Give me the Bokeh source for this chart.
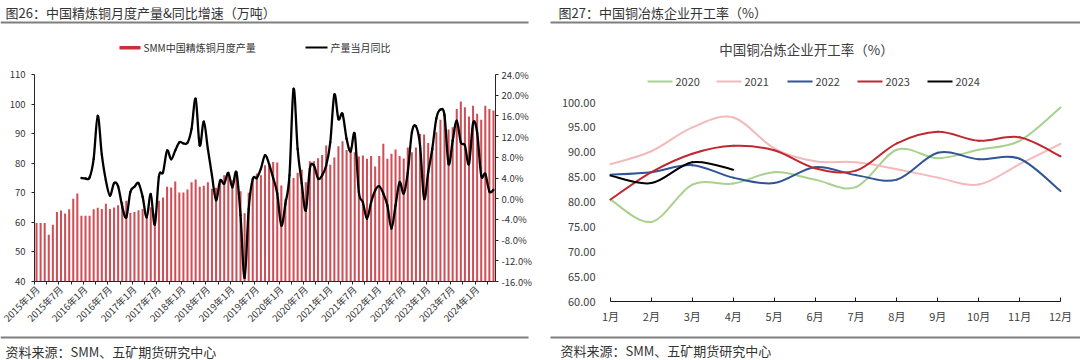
import math
from bokeh.plotting import figure
from bokeh.models import (Range1d, LinearAxis, FixedTicker, PrintfTickFormatter,
                          Label, BoxAnnotation, ColumnDataSource)
from bokeh.layouts import row
from bokeh.embed import file_html
from bokeh.resources import INLINE

FONT = "Noto Sans CJK SC"
TXT = "#333333"

# ---------------- data: left chart ----------------
months = [f"{y}年{m}月" for y in range(2015, 2025) for m in range(1, 13)][:113]
x_label_months = ["2015年1月", "2015年7月", "2016年1月", "2016年7月", "2017年1月", "2017年7月",
                  "2018年1月", "2018年7月", "2019年1月", "2019年7月", "2020年1月", "2020年7月",
                  "2021年1月", "2021年7月", "2022年1月", "2022年7月", "2023年1月", "2023年7月",
                  "2024年1月"]

production = [
    59.8, 59.8, 59.8, 55.8, 59.2, 63.5, 64.0, 63.0, 64.4, 68.0, 69.8, 62.2,   # 2015
    62.2, 62.2, 64.4, 64.9, 64.5, 66.3, 64.5, 65.0, 65.8, 67.0, 67.3, 63.2,   # 2016
    63.5, 64.1, 64.5, 62.6, 65.1, 63.0, 67.3, 68.4, 72.0, 71.8, 73.8, 70.1,   # 2017
    70.1, 71.1, 73.6, 74.5, 72.0, 72.4, 73.6, 71.4, 71.7, 74.2, 75.9, 76.1,   # 2018
    74.2, 76.8, 70.5, 63.1, 70.0, 74.2, 76.5, 75.9, 79.3, 79.8, 80.4, 80.2,   # 2019
    72.5, 68.0, 74.2, 75.0, 76.8, 77.8, 73.6, 80.7, 80.7, 81.7, 82.8, 86.0,   # 2020
    79.5, 81.9, 85.7, 87.4, 84.5, 85.4, 83.7, 82.3, 82.6, 81.5, 82.4, 78.9,   # 2021
    82.4, 86.6, 81.5, 83.2, 84.6, 82.4, 81.6, 85.3, 83.7, 85.3, 89.9, 89.7,   # 2022
    86.8, 85.3, 90.5, 94.7, 96.9, 91.4, 92.2, 98.3, 100.9, 98.9, 95.8, 99.4,  # 2023
    96.7, 94.7, 99.4, 98.3, 97.8,                                             # 2024
]

yoy = [None] * 11 + [
    4.0,                                                                      # 2015-12
    3.9, 4.1, 7.7, 16.0, 8.5, 3.5, 0.6, 3.0, 2.4, -1.5, -3.6, 1.3,            # 2016
    2.3, 3.0, 0.4, -3.6, 0.9, -5.0, 4.3, 5.1, 9.3, 7.6, 9.3, 10.9,            # 2017
    10.7, 10.8, 13.5, 19.3, 10.3, 14.9, 9.6, 4.5, -0.3, 3.5, 2.9, 5.0,        # 2018
    2.2, 5.1, -3.2, -15.3, -2.0, 3.8, 4.0, 5.8, 8.4, 6.7, 4.0, 1.0,           # 2019
    -5.2, -1.0, 4.5, 21.2, 9.6, 3.0, -2.3, 5.8, 6.4, 3.9, 4.5, 6.4,           # 2020
    10.9, 20.1, 15.4, 16.4, 11.6, 9.1, 12.5, 1.3, -0.7, -3.9, -0.7, 1.6,      # 2021
    2.4, 1.0, -1.3, -5.8, -1.3, 3.2, 1.0, 5.1, 12.8, 14.0, 10.3, 0.0,         # 2022
    5.1, 9.6, 15.5, 17.2, 16.1, 6.7, 11.2, 15.1, 10.9, 10.3, 6.7, 14.6,       # 2023
    12.8, 4.5, 4.8, 1.4, 1.7,                                                 # 2024
]

prod_ticks = [40, 50, 60, 70, 80, 90, 100, 110]
yoy_ticks = [-16, -12, -8, -4, 0, 4, 8, 12, 16, 20, 24]

# ---------------- data: right chart ----------------
rate_months = ["1月", "2月", "3月", "4月", "5月", "6月", "7月", "8月", "9月", "10月", "11月", "12月"]
rate_2020 = [80.5, 76.0, 83.5, 83.7, 86.0, 84.5, 83.0, 90.5, 88.8, 90.5, 92.3, 99.0]
rate_2021 = [87.6, 90.2, 95.0, 97.0, 90.8, 88.2, 88.0, 86.6, 84.9, 83.5, 87.6, 91.7]
rate_2022 = [85.5, 86.0, 87.4, 84.9, 83.8, 87.0, 85.4, 84.5, 89.9, 88.6, 88.7, 82.2]
rate_2023 = [80.5, 86.0, 89.7, 91.3, 90.4, 86.8, 86.3, 91.8, 94.1, 92.3, 93.0, 89.2]
rate_2024 = [85.3, 83.8, 88.0, 86.5]
rate_ticks = [60, 65, 70, 75, 80, 85, 90, 95, 100]

series = [("2020", rate_2020, "#A9D18E"), ("2021", rate_2021, "#F4B9BB"),
          ("2022", rate_2022, "#2F5597"), ("2023", rate_2023, "#C0282F"),
          ("2024", rate_2024, "#000000")]


def smooth_source(xs, ys):
    pts = [(x, y) for x, y in zip(xs, ys) if y is not None]
    n = len(pts)
    d = {k: [] for k in ("x0", "y0", "x1", "y1", "cx0", "cy0", "cx1", "cy1")}
    for i in range(n - 1):
        p0 = pts[max(i - 1, 0)]
        p1 = pts[i]
        p2 = pts[i + 1]
        p3 = pts[min(i + 2, n - 1)]
        d["x0"].append(p1[0]); d["y0"].append(p1[1])
        d["x1"].append(p2[0]); d["y1"].append(p2[1])
        d["cx0"].append(p1[0] + (p2[0] - p0[0]) / 6.0)
        d["cy0"].append(p1[1] + (p2[1] - p0[1]) / 6.0)
        d["cx1"].append(p2[0] - (p3[0] - p1[0]) / 6.0)
        d["cy1"].append(p2[1] - (p3[1] - p1[1]) / 6.0)
    return ColumnDataSource(d)


W, H = 540, 360


def lin_range(v0, p0, v1, p1, size, flip=False):
    """range so that value v0 sits at pixel p0 and v1 at pixel p1 over a frame of `size` px"""
    u = (v1 - v0) / (p1 - p0)          # value per pixel
    if flip:  # pixel measured from the top edge
        return Range1d(v0 + (size - p0) * u, v0 - p0 * u)
    return Range1d(v0 - p0 * u, v0 + (size - p0) * u)


class Place:
    def __init__(self, p, ox):
        self.p, self.ox = p, ox

    def text(self, wx, wy, txt, size, align="left", color=TXT):
        self.p.add_layout(Label(x=wx - self.ox, y=H - wy, x_units="screen", y_units="screen",
                                text=txt, text_font=FONT, text_font_size=size, text_color=color,
                                text_align=align, text_baseline="middle"))

    def box(self, x0, x1, y0, y1, color):
        self.p.add_layout(BoxAnnotation(left=x0 - self.ox, right=x1 - self.ox,
                                        top=H - y0, bottom=H - y1,
                                        left_units="screen", right_units="screen",
                                        top_units="screen", bottom_units="screen",
                                        fill_color=color, fill_alpha=1.0, line_color=None,
                                        level="overlay"))


def base_fig(xr, yr):
    p = figure(width=W, height=H, output_backend="svg", toolbar_location=None, title=None,
               x_range=xr, y_range=yr, x_axis_location=None, y_axis_location=None,
               min_border=0, min_border_left=0, min_border_right=0,
               min_border_top=0, min_border_bottom=0)
    p.outline_line_color = None
    p.xgrid.visible = False
    p.ygrid.visible = False
    p.background_fill_color = "white"
    p.border_fill_color = "white"
    return p


def style_axis(a, size, color, standoff, tick_out=0, tick_in=0, line_color="#262626"):
    a.major_label_text_font = FONT
    a.major_label_text_font_size = size
    a.major_label_text_color = color
    a.major_tick_out = tick_out
    a.major_tick_in = tick_in
    a.minor_tick_out = 0
    a.minor_tick_in = 0
    a.major_label_standoff = standoff
    a.axis_line_color = line_color
    a.major_tick_line_color = line_color
    a.minor_tick_line_color = line_color


# ---------------- left figure ----------------
n = len(production)
idx = list(range(n))
X_LO, X_HI = -0.5, n - 0.5
p1 = base_fig(lin_range(X_LO, 34, X_HI, 495, W),
              lin_range(prod_ticks[0], 281, prod_ticks[-1], 74, H, flip=True))
p1.extra_y_ranges = {"pct": lin_range(yoy_ticks[0], 281, yoy_ticks[-1], 74, H, flip=True)}

p1.vbar(x=idx, top=production, bottom=prod_ticks[0], width=0.5,
        fill_color="#C8303A", fill_alpha=0.85, line_color=None)

src = smooth_source(idx, yoy)
p1.bezier(x0="x0", y0="y0", x1="x1", y1="y1", cx0="cx0", cy0="cy0", cx1="cx1", cy1="cy1",
          source=src, line_color="#000000", line_width=2.3, line_cap="round", y_range_name="pct")

lax = LinearAxis(fixed_location=X_LO, bounds=(prod_ticks[0], prod_ticks[-1]),
                 ticker=FixedTicker(ticks=prod_ticks))
style_axis(lax, "9.5px", TXT, 6, tick_out=3)
p1.add_layout(lax, "left")

rax = LinearAxis(y_range_name="pct", fixed_location=X_HI, bounds=(yoy_ticks[0], yoy_ticks[-1]),
                 ticker=FixedTicker(ticks=yoy_ticks), formatter=PrintfTickFormatter(format="%.1f%%"))
style_axis(rax, "9.5px", TXT, 3, tick_out=3)
p1.add_layout(rax, "right")

label_pos = [months.index(m) for m in x_label_months]
bx = LinearAxis(fixed_location=prod_ticks[0], bounds=(X_LO, X_HI),
                ticker=FixedTicker(ticks=label_pos, minor_ticks=[i - 0.5 for i in range(0, n - 1, 3)]))
bx.major_label_overrides = {i: months[i] for i in label_pos}
bx.major_label_orientation = math.pi / 4
style_axis(bx, "9.5px", TXT, 3)
bx.minor_tick_out = 3
p1.add_layout(bx, "below")

L = Place(p1, 0)
L.text(5, 12, "图26：中国精炼铜月度产量&同比增速（万吨）", "13px")
L.box(0, 528, 21, 23, "#7F7F7F")
L.box(119, 140, 45.5, 49, "#C8303A")
L.text(143, 47, "SMM中国精炼铜月度产量", "10px")
L.box(305, 327, 46, 48, "#000000")
L.text(330, 47, "产量当月同比", "10px")
L.box(0, 528, 336, 338, "#7F7F7F")
L.text(5, 351, "资料来源：SMM、五矿期货研究中心", "13px")

# ---------------- right figure ----------------
mx = list(range(1, 13))
p2 = base_fig(lin_range(1, 70, 12, 520, W),
              lin_range(rate_ticks[0], 301, rate_ticks[-1], 102, H, flip=True))

for name, vals, col in series:
    s = smooth_source(mx[:len(vals)], vals)
    p2.bezier(x0="x0", y0="y0", x1="x1", y1="y1", cx0="cx0", cy0="cy0", cx1="cx1", cy1="cy1",
              source=s, line_color=col, line_width=2.0, line_cap="round")

ly = LinearAxis(fixed_location=1, bounds=(rate_ticks[0], rate_ticks[-1]),
                ticker=FixedTicker(ticks=rate_ticks), formatter=PrintfTickFormatter(format="%.2f"))
style_axis(ly, "11px", "#404040", 15, line_color=None)
p2.add_layout(ly, "left")

lx = LinearAxis(fixed_location=rate_ticks[0], bounds=(1, 12), ticker=FixedTicker(ticks=mx))
lx.major_label_overrides = {m: rate_months[m - 1] for m in mx}
style_axis(lx, "11px", "#404040", 6, tick_in=4, line_color="#1a1a1a")
lx.axis_line_width = 1.2
p2.add_layout(lx, "below")

R = Place(p2, 540)
R.text(558, 12, "图27：中国铜冶炼企业开工率（%）", "13px")
R.box(550, 1080, 21, 23, "#7F7F7F")
R.text(806, 48, "中国铜冶炼企业开工率（%）", "13.5px", align="center", color="#404040")
leg_x = [647, 716, 787, 857, 927]
for (name, vals, col), lx0 in zip(series, leg_x):
    R.box(lx0, lx0 + 25, 80, 82, col)
    R.text(lx0 + 28, 81, name, "11px", color="#404040")
R.box(550, 1080, 336, 338, "#7F7F7F")
R.text(560, 350, "资料来源：SMM、五矿期货研究中心", "13px")

layout = row(p1, p2)
open("out.html", "w").write(file_html(layout, INLINE))
